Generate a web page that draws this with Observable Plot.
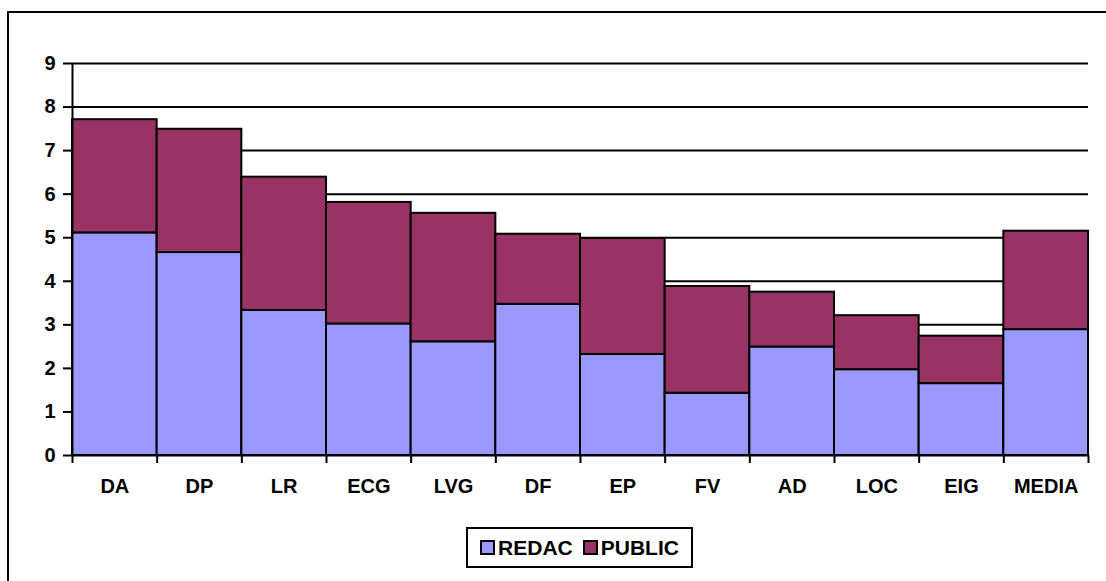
<!DOCTYPE html>
<html>
<head>
<meta charset="utf-8">
<script src="https://cdn.jsdelivr.net/npm/d3@7"></script>
<script src="https://cdn.jsdelivr.net/npm/@observablehq/plot@0.6"></script>
<style>
  html, body { margin: 0; padding: 0; background: #fff; }
  #wrap { position: relative; width: 1106px; height: 581px; overflow: hidden; font-family: Arial, "Liberation Sans", sans-serif; }
  #border { position: absolute; left: 7px; top: 11px; width: 1200px; height: 700px; border-left: 2px solid #000; border-top: 2px solid #000; }
  #chart { position: absolute; left: 0; top: 0; }
  #legend { position: absolute; left: 466px; top: 527px; width: 227px; height: 41px; box-sizing: border-box; border: 2px solid #000; background: #fff;
    display: flex; align-items: center; justify-content: center; gap: 10px; font-weight: bold; font-size: 21px; color: #000; }
  .item { display: flex; align-items: center; gap: 3px; }
  .sw { width: 15px; height: 15px; box-sizing: border-box; border: 2px solid #000; }
</style>
</head>
<body>
<div id="wrap">
  <div id="border"></div>
  <div id="chart"></div>
  <div id="legend"></div>
</div>
<script>
const categories = ["DA", "DP", "LR", "ECG", "LVG", "DF", "EP", "FV", "AD", "LOC", "EIG", "MEDIA"];
const redac  = [5.11, 4.66, 3.33, 3.02, 2.61, 3.47, 2.32, 1.43, 2.49, 1.97, 1.65, 2.89];
const publik = [2.60, 2.83, 3.06, 2.79, 2.95, 1.61, 2.66, 2.45, 1.26, 1.24, 1.09, 2.26];
const seriesNames = ["REDAC", "PUBLIC"];
const seriesColors = ["#9999FF", "#993366"];
const yTicks = [0, 1, 2, 3, 4, 5, 6, 7, 8, 9];

const rows = [];
categories.forEach((c, i) => {
  rows.push({i, cat: c, series: "REDAC", y1: 0, y2: redac[i]});
  rows.push({i, cat: c, series: "PUBLIC", y1: redac[i], y2: redac[i] + publik[i]});
});
const boundaries = d3.range(categories.length + 1);
const centers = categories.map((c, i) => i + 0.5);

const chart = Plot.plot({
  width: 1106,
  height: 505,
  marginLeft: 72,
  marginRight: 18,
  marginTop: 63,
  marginBottom: 50,
  style: {fontFamily: "Arial, 'Liberation Sans', sans-serif", fontWeight: "bold", fontSize: "20px", color: "#000", background: "transparent", overflow: "visible"},
  x: {domain: [0, categories.length], label: null},
  y: {domain: [0, 9], label: null},
  color: {domain: seriesNames, range: seriesColors},
  marks: [
    Plot.ruleY(yTicks.slice(1), {stroke: "#000", strokeWidth: 2}),
    Plot.rect(rows, {x1: "i", x2: d => d.i + 1, y1: "y1", y2: "y2", fill: "series", stroke: "#000", strokeWidth: 2}),
    Plot.ruleX([0], {stroke: "#000", strokeWidth: 2}),
    Plot.ruleY([0], {stroke: "#000", strokeWidth: 2}),
    Plot.axisY(yTicks, {tickSize: 9, tickPadding: 8, strokeWidth: 2, label: null, tickFormat: d => String(d), fontSize: 20, fontWeight: "bold"}),
    Plot.axisX(boundaries, {tickSize: 8, strokeWidth: 2, label: null, tickFormat: () => ""}),
    Plot.axisX(centers, {tickSize: 0, tickPadding: 23, label: null, tickFormat: v => categories[Math.floor(v)], fontSize: 20, fontWeight: "bold"})
  ]
});
document.getElementById("chart").appendChild(chart);

const legend = document.getElementById("legend");
seriesNames.forEach((name, k) => {
  const it = document.createElement("div");
  it.className = "item";
  const sw = document.createElement("div");
  sw.className = "sw";
  sw.style.background = seriesColors[k];
  const t = document.createElement("span");
  t.textContent = name;
  it.appendChild(sw);
  it.appendChild(t);
  legend.appendChild(it);
});
</script>
</body>
</html>
